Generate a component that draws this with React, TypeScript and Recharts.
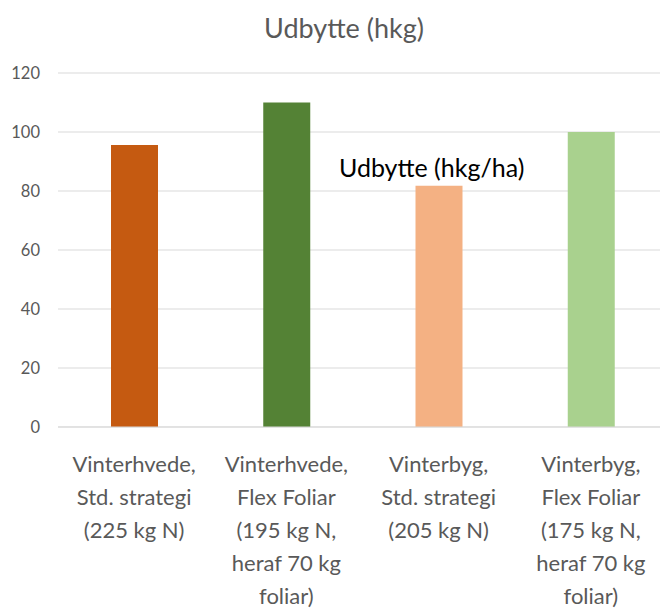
import { BarChart, Bar, XAxis, YAxis, CartesianGrid, Cell } from 'recharts'

// kategorier og udbytte (hkg/ha)
const categories = ['VH std', 'VH flex', 'VB std', 'VB flex']
const tickLines = [
  ['Vinterhvede,', 'Std. strategi', '(225 kg N)'],
  ['Vinterhvede,', 'Flex Foliar', '(195 kg N,', 'heraf 70 kg', 'foliar)'],
  ['Vinterbyg,', 'Std. strategi', '(205 kg N)'],
  ['Vinterbyg,', 'Flex Foliar', '(175 kg N,', 'heraf 70 kg', 'foliar)'],
]
const yields = [95.6, 110, 81.8, 100]
const yTicks = [0, 20, 40, 60, 80, 100, 120]
const COLORS = ['#C55A11', '#548235', '#F4B183', '#A9D18E']

const data = categories.map((c, i) => ({ name: c, value: yields[i] }))

const FONT = 'Lato, "Open Sans", sans-serif'

function CategoryTick({ x, y, payload }: any) {
  const idx = categories.indexOf(payload.value)
  const lines = tickLines[idx] || []
  return (
    <text x={x} y={y} textAnchor="middle" fill="#595959" fontSize={22} fontFamily={FONT}>
      {lines.map((l, i) => (
        <tspan key={i} x={x} dy={i === 0 ? 37 : 33}>
          {l}
        </tspan>
      ))}
    </text>
  )
}

export default function App() {
  return (
    <div style={{ position: 'absolute', left: 0, top: 0, width: 660, height: 608, overflow: 'hidden', background: '#fff' }}>
      <div
        style={{
          position: 'absolute',
          top: 10,
          left: 0,
          width: 688,
          textAlign: 'center',
          fontFamily: FONT,
          fontSize: 27,
          lineHeight: '36px',
          color: '#595959',
        }}
      >
        Udbytte (hkg)
      </div>
      <BarChart
        width={680}
        height={608}
        data={data}
        margin={{ top: 73, right: 13, left: 0, bottom: 0 }}
        barSize={47}
      >
        <CartesianGrid vertical={false} stroke="#D9D9D9" />
        <XAxis
          dataKey="name"
          axisLine={{ stroke: '#D9D9D9' }}
          tickLine={false}
          interval={0}
          tick={<CategoryTick />}
          height={181}
        />
        <YAxis
          domain={[0, 120]}
          ticks={yTicks}
          width={58}
          axisLine={false}
          tickLine={false}
          tick={{ fill: '#595959', fontSize: 16.5, fontFamily: FONT }}
          tickMargin={12}
        />
        <Bar dataKey="value" isAnimationActive={false}>
          {data.map((d, i) => (
            <Cell key={d.name} fill={COLORS[i]} />
          ))}
        </Bar>
      </BarChart>
      <div
        style={{
          position: 'absolute',
          top: 151,
          left: 339,
          fontFamily: FONT,
          fontSize: 25,
          lineHeight: '32px',
          color: '#000',
          whiteSpace: 'nowrap',
        }}
      >
        Udbytte (hkg/ha)
      </div>
    </div>
  )
}
